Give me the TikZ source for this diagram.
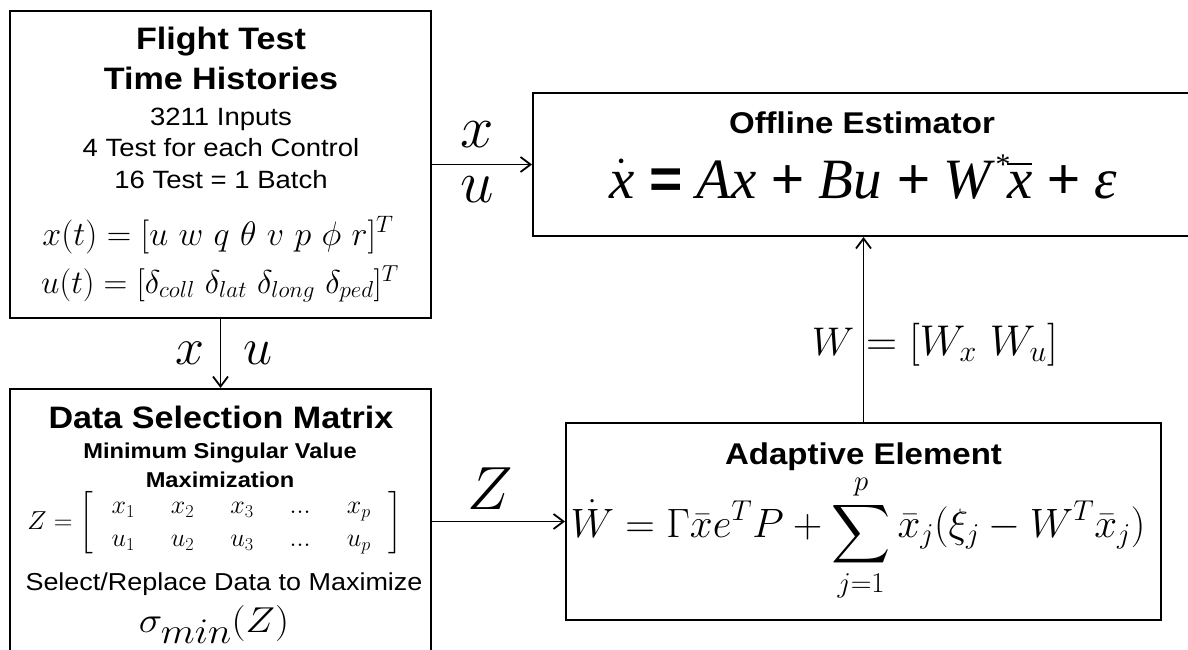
\RequirePackage{fix-cm}
\documentclass[tikz,border=0pt]{standalone}
\usepackage{amsmath}
\DeclareFontShape{OMX}{cmex}{m}{n}{<->cmex10}{}
\usepackage{graphicx}
\usepackage{fontspec}
\setmainfont{Liberation Sans}[FakeStretch=1.1]
\newfontfamily\eqfont{Liberation Serif}
\newfontfamily\signfont{Liberation Sans}
\usetikzlibrary{arrows.meta}
\newcommand{\fsize}[1]{\fontsize{#1}{#1}\selectfont}

\begin{document}
\begin{tikzpicture}[x=1pt,y=-1pt,
    blockbox/.style={draw,line width=2pt,inner sep=0pt},
    txt/.style={inner sep=0pt,anchor=base},
    link/.style={->,line width=1.8pt},
    >={Straight Barb[length=10pt,width=15pt]}]
        \useasboundingbox (0,0) rectangle (1188,650);
        \clip (0,0) rectangle (1188,650);
        % flight test box
        \node[blockbox,minimum width=421,minimum height=307] (flight) at (220.5,164.5) {};
        \node[txt] (flighthead) at (221,50) {\fsize{31}\bfseries Flight Test};
        \node[txt] (timehead) at (221,90) {\fsize{31}\bfseries Time Histories};
        \node[txt] (inputs) at (221,125) {\fsize{25}3211 Inputs};
        \node[txt] (tests) at (221,157) {\fsize{25}4 Test for each Control};
        \node[txt] (batch) at (221,188) {\fsize{25}16 Test = 1 Batch};
        \node[txt] (statevec) at (218,245) {\fsize{34}$x(t) = [u\ w\ q\ \theta\ v\ p\ \phi\ r]^T$};
        \node[txt] (inputvec) at (220,293) {\fsize{33}$u(t) = [\delta_{coll}\ \delta_{lat}\ \delta_{long}\ \delta_{ped}]^T$};
        % data selection box
        \node[blockbox,minimum width=421,minimum height=265] (datasel) at (220.5,521.5) {};
        \node[txt] (selhead) at (221,428) {\fsize{31}\bfseries Data Selection Matrix};
        \node[txt] (minsv) at (220,458) {\fsize{21.5}\bfseries Minimum Singular Value};
        \node[txt] (maxim) at (220,487) {\fsize{21.5}\bfseries Maximization};
        \node[inner sep=0pt] (zmat) at (215,523) {\fsize{26}\arraycolsep=18pt\renewcommand{\arraystretch}{1.27}%
            $Z = \left[\begin{array}{ccccc} x_1 & x_2 & x_3 & ... & x_p\\ u_1 & u_2 & u_3 & ... & u_p\end{array}\right]$};
        \node[txt] (select) at (224,590) {\fsize{24.5}Select/Replace Data to Maximize};
        \node[txt] (sigmin) at (214,632) {\fsize{36}\scalebox{1.1}[1]{$\sigma_{\textstyle min}(Z)$}};
        % offline estimator
        \node[blockbox,minimum width=661,minimum height=143] (offline) at (863.5,164.5) {};
        \node[txt] (offhead) at (862,133) {\fsize{30}\bfseries Offline Estimator};
        \node[txt] (offeq) at (863,198) {\eqfont\itshape\fsize{57}$\dot{\hbox{x}}$ {\signfont\bfseries =} Ax {\signfont +} Bu {\signfont +} W\kern3pt\raisebox{0.42em}{\fsize{30}*}\kern-2pt$\overline{\hbox{x}}$ {\signfont +} ε};
        % adaptive element
        \node[blockbox,minimum width=595,minimum height=197] (adaptive) at (863.5,521.5) {};
        \node[txt] (adahead) at (863.5,464) {\fsize{30}\bfseries Adaptive Element};
        \node[txt] (adaeq) at (858,537) {\fsize{41}$\displaystyle \dot{W} = \Gamma\bar{x}e^{T}P + \mathop{\raisebox{-7pt}{$\displaystyle\sum$}}\limits_{j=1}^{p}\bar{x}_j(\xi_j - W^{T}\bar{x}_j)$};
        % connectors
        \draw[link] (flight) -- (offline);
        \node[txt] (xtop) at (477,147) {\fsize{60}$x$};
        \node[txt] (utop) at (477,202) {\fsize{60}$u$};
        \draw[link] (flight) -- (datasel);
        \node[txt] (xleft) at (190,364) {\fsize{52}$x$};
        \node[txt] (uright) at (258,364) {\fsize{52}$u$};
        \draw[link] (datasel) -- (adaptive);
        \node[txt] (zlabel) at (490,509) {\fsize{61}$Z$};
        \draw[link] (adaptive) -- (offline);
        \node[txt] (wlabel) at (833,355) {\fsize{40}$W$};
        \node[txt,anchor=base west] (wsplit) at (866,355) {\fsize{43}$= [W_x\ W_u]$};
    \end{tikzpicture}
\end{document}
